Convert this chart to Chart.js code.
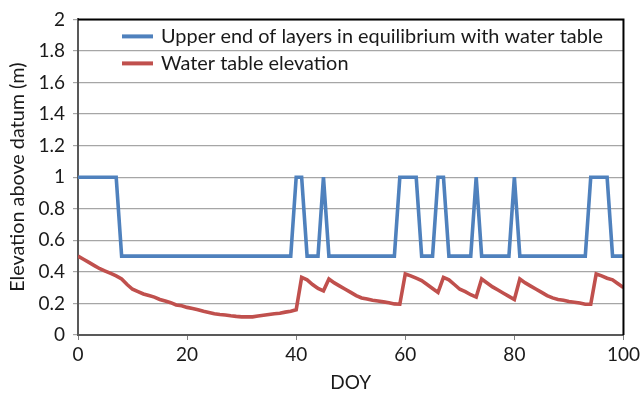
<!DOCTYPE html>
<html>
<head>
<meta charset="utf-8">
<script src="https://cdn.jsdelivr.net/npm/chart.js@4.4.1/dist/chart.umd.min.js"></script>
<style>
    html, body { margin: 0; padding: 0; background: #ffffff; }
    #wrap { width: 643px; height: 398px; position: relative; }
</style>
</head>
<body>
<div id="wrap"><canvas id="chart"></canvas></div>
<script>
// Día del año (DOY)
const days = [
    0, 1, 2, 3, 4, 5, 6, 7, 8, 9, 10, 11, 12, 13, 14, 15, 16, 17, 18, 19,
    20, 21, 22, 23, 24, 25, 26, 27, 28, 29, 30, 31, 32, 33, 34, 35, 36, 37, 38, 39,
    40, 41, 42, 43, 44, 45, 46, 47, 48, 49, 50, 51, 52, 53, 54, 55, 56, 57, 58, 59,
    60, 61, 62, 63, 64, 65, 66, 67, 68, 69, 70, 71, 72, 73, 74, 75, 76, 77, 78, 79,
    80, 81, 82, 83, 84, 85, 86, 87, 88, 89, 90, 91, 92, 93, 94, 95, 96, 97, 98, 99,
    100
];

// Límite superior de capas en equilibrio con el nivel freático
const upperEnd = [
    1, 1, 1, 1, 1, 1, 1, 1, 0.5, 0.5, 0.5, 0.5, 0.5, 0.5, 0.5, 0.5, 0.5, 0.5, 0.5, 0.5,
    0.5, 0.5, 0.5, 0.5, 0.5, 0.5, 0.5, 0.5, 0.5, 0.5, 0.5, 0.5, 0.5, 0.5, 0.5, 0.5, 0.5, 0.5, 0.5, 0.5,
    1, 1, 0.5, 0.5, 0.5, 1, 0.5, 0.5, 0.5, 0.5, 0.5, 0.5, 0.5, 0.5, 0.5, 0.5, 0.5, 0.5, 0.5, 1,
    1, 1, 1, 0.5, 0.5, 0.5, 1, 1, 0.5, 0.5, 0.5, 0.5, 0.5, 1, 0.5, 0.5, 0.5, 0.5, 0.5, 0.5,
    1, 0.5, 0.5, 0.5, 0.5, 0.5, 0.5, 0.5, 0.5, 0.5, 0.5, 0.5, 0.5, 0.5, 1, 1, 1, 1, 0.5, 0.5,
    0.5
];

// Elevación del nivel freático
const waterTable = [
    0.50, 0.48, 0.46, 0.44, 0.42, 0.405, 0.39, 0.375, 0.355, 0.32,
    0.29, 0.275, 0.26, 0.25, 0.24, 0.225, 0.215, 0.205, 0.19, 0.185,
    0.175, 0.168, 0.16, 0.15, 0.143, 0.135, 0.13, 0.127, 0.122, 0.118,
    0.115, 0.115, 0.115, 0.12, 0.125, 0.13, 0.135, 0.138, 0.145, 0.15,
    0.16, 0.365, 0.35, 0.32, 0.295, 0.28, 0.355, 0.33, 0.31, 0.29,
    0.27, 0.25, 0.235, 0.228, 0.22, 0.215, 0.21, 0.205, 0.197, 0.195,
    0.387, 0.375, 0.36, 0.345, 0.32, 0.295, 0.27, 0.365, 0.35, 0.32,
    0.29, 0.275, 0.255, 0.24, 0.355, 0.33, 0.305, 0.285, 0.265, 0.245,
    0.225, 0.355, 0.33, 0.31, 0.29, 0.27, 0.25, 0.235, 0.225, 0.22,
    0.212, 0.208, 0.203, 0.195, 0.195, 0.387, 0.375, 0.36, 0.35, 0.325,
    0.30
];

const seriesLabels = [
    'Upper end of layers in equilibrium with water table',
    'Water table elevation'
];
const seriesColors = ['#4f81bd', '#c0504d'];

const FONT = 'Lato, "Liberation Sans", sans-serif';

// Leyenda dentro del área del gráfico y marco superior/derecho
const insideLegend = {
    id: 'insideLegend',
    afterDraw(chart) {
        const ctx = chart.ctx;
        const area = chart.chartArea;
        ctx.save();
        ctx.strokeStyle = '#000000';
        ctx.lineWidth = 2;
        ctx.beginPath();
        ctx.moveTo(area.left, area.top);
        ctx.lineTo(area.right, area.top);
        ctx.lineTo(area.right, area.bottom);
        ctx.stroke();

        chart.data.datasets.forEach((ds, i) => {
            const y = area.top + 17 + i * 27;
            ctx.strokeStyle = ds.borderColor;
            ctx.lineWidth = 4;
            ctx.beginPath();
            ctx.moveTo(area.left + 44, y);
            ctx.lineTo(area.left + 75, y);
            ctx.stroke();
            ctx.fillStyle = '#1a1a1a';
            ctx.font = '19.9px ' + FONT;
            ctx.textBaseline = 'middle';
            ctx.textAlign = 'left';
            ctx.fillText(ds.label, area.left + 83, y);
        });
        ctx.restore();
    }
};

new Chart(document.getElementById('chart'), {
    type: 'line',
    data: {
        labels: days,
        datasets: [
            {
                label: seriesLabels[0],
                data: upperEnd,
                borderColor: seriesColors[0],
                borderWidth: 3.6,
                pointRadius: 0,
                tension: 0,
                fill: false
            },
            {
                label: seriesLabels[1],
                data: waterTable,
                borderColor: seriesColors[1],
                borderWidth: 3.6,
                pointRadius: 0,
                tension: 0,
                fill: false
            }
        ]
    },
    options: {
        responsive: true,
        maintainAspectRatio: false,
        animation: false,
        layout: {
            padding: { top: 16, right: 18, left: 0, bottom: 0 }
        },
        plugins: {
            legend: { display: false },
            tooltip: { enabled: false }
        },
        scales: {
            x: {
                type: 'linear',
                min: 0,
                max: 100,
                afterFit(scale) { scale.height = 63; },
                ticks: {
                    stepSize: 20,
                    color: '#1a1a1a',
                    padding: 3,
                    font: { family: FONT, size: 19 }
                },
                grid: {
                    drawOnChartArea: false,
                    drawTicks: true,
                    tickLength: 5,
                    color: '#7f7f7f'
                },
                border: { color: '#595959', width: 2 },
                title: {
                    display: true,
                    text: 'DOY',
                    color: '#1a1a1a',
                    font: { family: FONT, size: 19 },
                    padding: { top: 4 }
                }
            },
            y: {
                min: 0,
                max: 2,
                afterFit(scale) { scale.width = 78; },
                ticks: {
                    stepSize: 0.2,
                    color: '#1a1a1a',
                    padding: 8,
                    font: { family: FONT, size: 19 },
                    callback: (v) => String(Number(v.toFixed(1)))
                },
                grid: {
                    color: '#a6a6a6',
                    lineWidth: 1.2,
                    tickLength: 5
                },
                border: { color: '#595959', width: 2 },
                title: {
                    display: true,
                    text: 'Elevation above datum (m)',
                    color: '#1a1a1a',
                    font: { family: FONT, size: 19.8 },
                    padding: { top: 6, bottom: 0 }
                }
            }
        }
    },
    plugins: [insideLegend]
});
</script>
</body>
</html>
